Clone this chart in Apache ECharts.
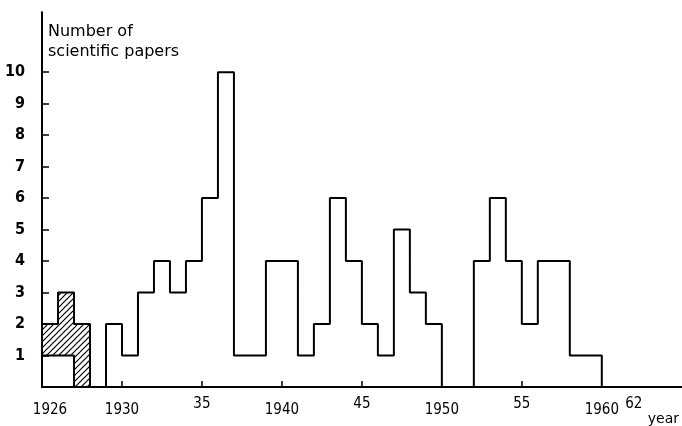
<!DOCTYPE html>
<html><head><meta charset="utf-8">
<script src="https://cdn.jsdelivr.net/npm/echarts@6/dist/echarts.min.js"></script>
<style>html,body{margin:0;padding:0;background:#fff}#c{width:682px;height:426px}</style>
</head><body><div id="c"></div>
<script>
// Each bin for year Y spans [Y-1, Y] on the x scale
const years = [1926,1927,1928,1929,1930,1931,1932,1933,1934,1935,1936,1937,1938,1939,1940,1941,1942,1943,1944,1945,1946,1947,1948,1949,1950,1951,1952,1953,1954,1955,1956,1957,1958,1959,1960,1961,1962];
const plainPapers = [1,1,0,0,2,1,3,4,3,4,6,10,1,1,4,4,1,2,6,4,2,1,5,3,2,0,0,4,6,4,2,4,4,1,1,0,0];
const hatchedPapers = [1,2,2,0,0,0,0,0,0,0,0,0,0,0,0,0,0,0,0,0,0,0,0,0,0,0,0,0,0,0,0,0,0,0,0,0,0];
const yTickValues = [1,2,3,4,5,6,7,8,9,10];
const xLongLabelValues = [1925.5,1930,1940,1950,1960];
const xLongLabels = ['1926','1930','1940','1950','1960'];
const xShortLabelValues = [1935,1945,1955,1962];
const xShortLabels = ['35','45','55','62'];
const xTickMarkValues = [1930,1935,1940,1945,1955];
const yAxisTitle = 'Number of\nscientific papers';
const xAxisTitle = 'year';

const FONT = "'Liberation Sans Narrow','DejaVu Sans Condensed','Liberation Sans',sans-serif";

// hatch pattern
const pc = document.createElement('canvas');
pc.width = 6; pc.height = 6;
const g = pc.getContext('2d');
g.strokeStyle = '#000'; g.lineWidth = 1.2;
g.beginPath();
g.moveTo(0,6); g.lineTo(6,0);
g.moveTo(-1,1); g.lineTo(1,-1);
g.moveTo(5,7); g.lineTo(7,5);
g.stroke();

const totals = years.map((y,i)=>plainPapers[i]+hatchedPapers[i]);
const outline = years.map((y,i)=>[y-1, totals[i]]);
outline.push([years[years.length-1], 0]);
const hatchIdx = years.map((y,i)=>i).filter(i=>hatchedPapers[i]>0);
const lowerHatch = hatchIdx.map(i=>[years[i]-1, plainPapers[i]]);
const lastH = hatchIdx[hatchIdx.length-1];
lowerHatch.push([years[lastH], plainPapers[lastH]]);
const hatchData = years.map((y,i)=>[y, plainPapers[i], hatchedPapers[i]]).filter(d=>d[2]>0);

const chart = echarts.init(document.getElementById('c'));
const commonX = {
  type:'value', min:1925, max:1965, position:'bottom',
  splitLine:{show:false}
};
chart.setOption({
  animation:false,
  backgroundColor:'#fff',
  grid:{left:42, right:0, top:12.3, bottom:33.3, containLabel:false},
  xAxis:[
    Object.assign({}, commonX, {
      axisLine:{show:true, lineStyle:{color:'#000', width:2}},
      axisTick:{show:true, inside:true, length:6, lineStyle:{color:'#000', width:1.5}, customValues:xTickMarkValues},
      axisLabel:{show:true, margin:16, color:'#000', fontFamily:FONT, fontSize:15,
        customValues:xLongLabelValues,
        formatter:(v)=>{const i=xLongLabelValues.indexOf(v);return i>=0?xLongLabels[i]:'';}},
      name:xAxisTitle, nameLocation:'end', nameGap:-34,
      nameTextStyle:{color:'#000', fontFamily:"'DejaVu Sans',sans-serif", fontSize:14, align:'left', verticalAlign:'top', padding:[25,0,0,0]}
    }),
    Object.assign({}, commonX, {
      axisLine:{show:false}, axisTick:{show:false},
      axisLabel:{show:true, margin:10, color:'#000', fontFamily:FONT, fontSize:15,
        customValues:xShortLabelValues,
        formatter:(v)=>{const i=xShortLabelValues.indexOf(v);return i>=0?xShortLabels[i]:'';}}
    })
  ],
  yAxis:{
    type:'value', min:0, max:11.9,
    splitLine:{show:false},
    axisLine:{show:true, lineStyle:{color:'#000', width:2}},
    axisTick:{show:true, inside:true, length:7, lineStyle:{color:'#000', width:1.5}, customValues:yTickValues},
    axisLabel:{show:true, margin:17, color:'#000', fontFamily:FONT, fontSize:16, fontWeight:'bold', customValues:yTickValues},
    name:yAxisTitle, nameLocation:'end', nameGap:-10,
    nameTextStyle:{color:'#000', fontFamily:"'DejaVu Sans',sans-serif", fontSize:16, align:'left', verticalAlign:'top', lineHeight:20, padding:[0,0,0,6]}
  },
  series:[
    {
      type:'custom', xAxisIndex:0, data:hatchData, silent:true,
      renderItem:(params, api)=>{
        const yr = api.value(0), base = api.value(1), h = api.value(2);
        const p0 = api.coord([yr-1, base]);
        const p1 = api.coord([yr, base+h]);
        return {type:'rect', shape:{x:p0[0], y:p1[1], width:p1[0]-p0[0], height:p0[1]-p1[1]},
          style:{fill:{image:pc, repeat:'repeat'}, stroke:null}};
      },
      z:1
    },
    {
      type:'line', xAxisIndex:0, data:outline, step:'end', symbol:'none',
      lineStyle:{color:'#000', width:2}, z:3
    },
    {
      type:'line', xAxisIndex:0, data:lowerHatch, step:'end', symbol:'none',
      lineStyle:{color:'#000', width:2}, z:3
    }
  ]
});
</script></body></html>
